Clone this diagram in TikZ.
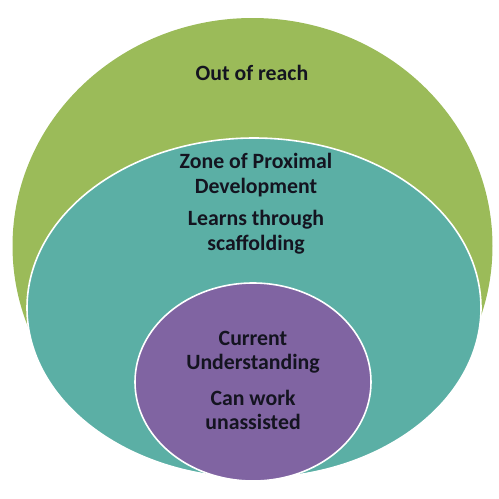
\documentclass[tikz,border=0pt]{standalone}
\usepackage{fontspec}
\setmainfont{Carlito}
\definecolor{outergreen}{HTML}{9BBB59}
\definecolor{zoneteal}{HTML}{5BAFA5}
\definecolor{currpurple}{HTML}{8064A2}
\definecolor{txt}{HTML}{141420}
\begin{document}
\begin{tikzpicture}[x=1pt,y=-1pt,
  lbl/.style={font=\fontsize{21.8}{24.5}\selectfont\bfseries, text=txt, align=center, inner sep=0pt},
  zone/.style={draw=white, line width=1.6pt}]
\useasboundingbox (0,0) rectangle (499,499);
\fill[outergreen] (252.5,246) ellipse [x radius=240, y radius=228];
\path[zone, fill=zoneteal] (254,308) ellipse [x radius=227, y radius=170];
\path[zone, fill=currpurple] (253,382) ellipse [x radius=118, y radius=99];
\node[lbl] (out) at (252,73) {Out of reach};
\node[lbl] (zpd) at (256,175) {Zone of Proximal\\Development};
\node[lbl] (scaf) at (256,232) {Learns through\\scaffolding};
\node[lbl] (cur) at (253,352) {Current\\Understanding};
\node[lbl] (cw) at (253,410) {Can work\\unassisted};
\end{tikzpicture}
\end{document}
